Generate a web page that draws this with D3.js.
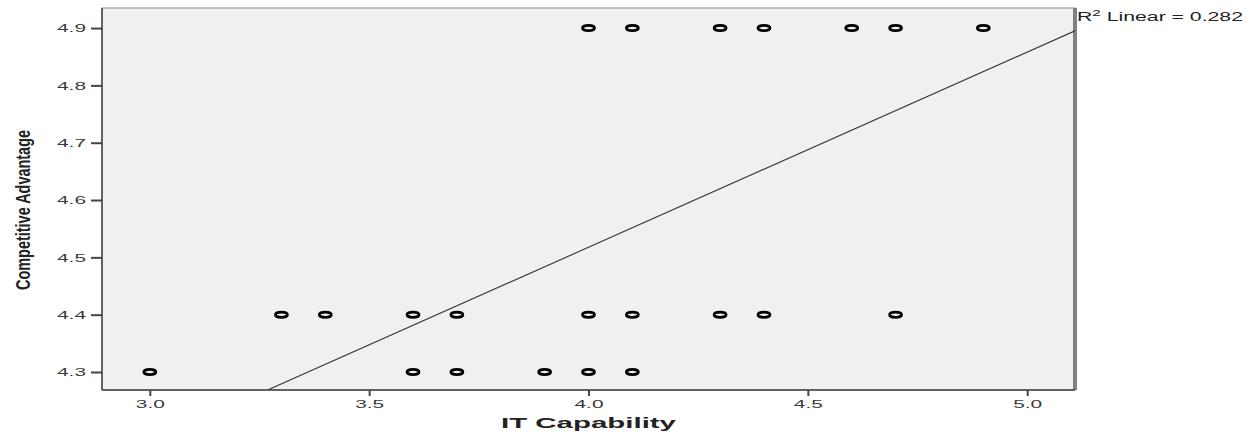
<!DOCTYPE html>
<html>
<head>
<meta charset="utf-8">
<script src="https://cdn.jsdelivr.net/npm/d3@7"></script>
<style>
    body { margin: 0; background: #fff; }
    svg { display: block; font-family: 'Liberation Sans', Arial, sans-serif; }
</style>
</head>
<body>
<div id="chart"></div>
<script>
// values
const itCapability = [4.0, 4.1, 4.3, 4.4, 4.6, 4.7, 4.9,
    3.3, 3.4, 3.6, 3.7, 4.0, 4.1, 4.3, 4.4, 4.7,
    3.0, 3.6, 3.7, 3.9, 4.0, 4.1]
const competitiveAdvantage = [4.9, 4.9, 4.9, 4.9, 4.9, 4.9, 4.9,
    4.4, 4.4, 4.4, 4.4, 4.4, 4.4, 4.4, 4.4, 4.4,
    4.3, 4.3, 4.3, 4.3, 4.3, 4.3]
const xTicks = [3.0, 3.5, 4.0, 4.5, 5.0]
const yTicks = [4.3, 4.4, 4.5, 4.6, 4.7, 4.8, 4.9]
const fitLine = { intercept: 3.156, slope: 0.3404 }
const rSquared = 0.282

const width = 1259, height = 433
const margin = { top: 8, right: 184, bottom: 43, left: 102 }
const innerW = width - margin.left - margin.right
const innerH = height - margin.top - margin.bottom

const svg = d3.select('#chart').append('svg')
    .attr('width', width)
    .attr('height', height)

const x = d3.scaleLinear().domain([2.891, 5.109]).range([margin.left, margin.left + innerW])
const y = d3.scaleLinear().domain([4.2686, 4.935]).range([margin.top + innerH, margin.top])

svg.append('clipPath').attr('id', 'plot')
    .append('rect')
    .attr('x', margin.left).attr('y', margin.top)
    .attr('width', innerW).attr('height', innerH)

// plot frame
svg.append('rect')
    .attr('x', margin.left).attr('y', margin.top)
    .attr('width', innerW).attr('height', innerH)
    .attr('fill', '#f0f0f0')
    .attr('stroke', '#8a8a8a')
    .attr('stroke-width', 1)
svg.append('line')
    .attr('x1', margin.left + innerW).attr('x2', margin.left + innerW)
    .attr('y1', margin.top).attr('y2', margin.top + innerH)
    .attr('stroke', '#808080').attr('stroke-width', 4)

// fit line
const xd = x.domain()
svg.append('line')
    .attr('clip-path', 'url(#plot)')
    .attr('x1', x(xd[0])).attr('y1', y(fitLine.intercept + fitLine.slope * xd[0]))
    .attr('x2', x(xd[1])).attr('y2', y(fitLine.intercept + fitLine.slope * xd[1]))
    .attr('stroke', '#333').attr('stroke-width', 1.1)

// axes
const yAxis = svg.append('g')
    .attr('transform', `translate(${margin.left},0)`)
    .call(d3.axisLeft(y).tickValues(yTicks).tickFormat(d3.format('.1f')).tickSize(11).tickPadding(5))
const xAxis = svg.append('g')
    .attr('transform', `translate(0,${margin.top + innerH})`)
    .call(d3.axisBottom(x).tickValues(xTicks).tickFormat(d3.format('.1f')).tickSize(6).tickPadding(4))

for (const g of [xAxis, yAxis]) {
    g.select('.domain').attr('stroke', '#444').attr('stroke-width', 1.5)
    g.selectAll('.tick line').attr('stroke', '#444').attr('stroke-width', 2)
    g.selectAll('.tick text')
        .attr('fill', '#3a3a3a')
        .attr('textLength', 29)
        .attr('lengthAdjust', 'spacingAndGlyphs')
        .style('font-size', '11.5px')
}
xAxis.select('.domain').attr('d', `M${margin.left},0H${margin.left + innerW}`)
yAxis.select('.domain').attr('d', `M0,${margin.top}V${margin.top + innerH}`)

// points
svg.append('g')
    .selectAll('ellipse')
    .data(itCapability.map((v, i) => [v, competitiveAdvantage[i]]))
    .enter()
    .append('ellipse')
    .attr('cx', d => x(d[0]))
    .attr('cy', d => y(d[1]))
    .attr('rx', 6)
    .attr('ry', 2.6)
    .attr('fill', 'none')
    .attr('stroke', '#000')
    .attr('stroke-width', 2.7)

// titles
svg.append('text')
    .attr('x', x(4.0))
    .attr('y', 428)
    .attr('text-anchor', 'middle')
    .attr('textLength', 175)
    .attr('lengthAdjust', 'spacingAndGlyphs')
    .style('font-size', '15px')
    .style('font-weight', 'bold')
    .attr('fill', '#222')
    .text('IT Capability')

svg.append('text')
    .attr('transform', 'translate(30,210) rotate(-90)')
    .attr('text-anchor', 'middle')
    .attr('textLength', 160)
    .attr('lengthAdjust', 'spacingAndGlyphs')
    .style('font-family', "'Liberation Sans Narrow', 'Liberation Sans', sans-serif")
    .style('font-size', '21px')
    .style('font-weight', 'bold')
    .attr('fill', '#222')
    .text('Competitive Advantage')

const r2 = svg.append('text')
    .attr('x', margin.left + innerW + 2)
    .attr('y', 21)
    .attr('textLength', 166)
    .attr('lengthAdjust', 'spacingAndGlyphs')
    .style('font-size', '12.5px')
    .attr('fill', '#222')
r2.append('tspan').text('R')
r2.append('tspan').attr('dy', -5).style('font-size', '9px').text('2')
r2.append('tspan').attr('dy', 5).text(' Linear = ' + rSquared.toFixed(3))
</script>
</body>
</html>
